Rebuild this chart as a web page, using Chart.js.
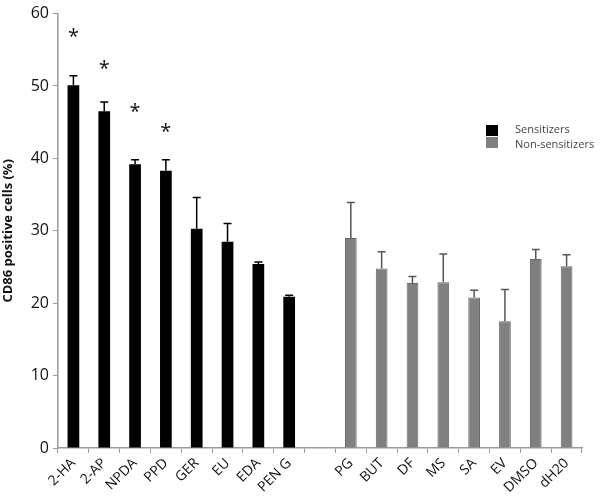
<!DOCTYPE html>
<html>
<head>
<meta charset="utf-8">
<script src="https://cdn.jsdelivr.net/npm/chart.js@4"></script>
<style>
  html, body { margin: 0; padding: 0; background: #fff; }
  #wrap { width: 600px; height: 504px; position: relative; }
</style>
</head>
<body>
<div id="wrap"><canvas id="cd86Chart"></canvas></div>
<script>
// categories (empty string = gap between groups)
var categories = ['2-HA', '2-AP', 'NPDA', 'PPD', 'GER', 'EU', 'EDA', 'PEN G', '',
                  'PG', 'BUT', 'DF', 'MS', 'SA', 'EV', 'DMSO', 'dH20'];
// mean values
var sensitizers    = [50.1, 46.5, 39.2, 38.3, 30.3, 28.5, 25.4, 20.9, null,
                      null, null, null, null, null, null, null, null];
var nonSensitizers = [null, null, null, null, null, null, null, null, null,
                      29.0, 24.8, 22.8, 22.9, 20.8, 17.5, 26.1, 25.1];
// upper error (SD)
var errors = [1.3, 1.3, 0.6, 1.5, 4.3, 2.5, 0.3, 0.2, null,
              4.9, 2.3, 0.9, 3.9, 1.0, 4.4, 1.3, 1.6];
// asterisk heights (significance marks)
var sigMarks = [56.5, 52.1, 46.1, 43.4, null, null, null, null, null,
                null, null, null, null, null, null, null, null];
var yTicks = [0, 10, 20, 30, 40, 50, 60];

var font = "'Open Sans', 'DejaVu Sans', sans-serif";

// error bars + asterisks + legend
var extrasPlugin = {
    id: 'extras',
    afterDatasetsDraw: function(chart) {
        var ctx = chart.ctx;
        var x = chart.scales.x, y = chart.scales.y;
        ctx.save();
        for (var i = 0; i < categories.length; i++) {
            var v = sensitizers[i] != null ? sensitizers[i] : nonSensitizers[i];
            if (v == null || errors[i] == null) continue;
            var cx = x.getPixelForValue(i);
            var y0 = y.getPixelForValue(v);
            var y1 = y.getPixelForValue(v + errors[i]);
            ctx.strokeStyle = sensitizers[i] != null ? '#000' : '#555';
            ctx.lineWidth = 1.5;
            ctx.beginPath();
            ctx.moveTo(cx, y0);
            ctx.lineTo(cx, y1);
            ctx.moveTo(cx - 4, y1);
            ctx.lineTo(cx + 4, y1);
            ctx.stroke();
        }
        ctx.fillStyle = '#111';
        ctx.font = '20px ' + font;
        ctx.textAlign = 'center';
        ctx.textBaseline = 'alphabetic';
        for (var j = 0; j < sigMarks.length; j++) {
            if (sigMarks[j] == null) continue;
            ctx.fillText('*', x.getPixelForValue(j), y.getPixelForValue(sigMarks[j]) + 4);
        }
        // legend
        ctx.fillStyle = '#000';
        ctx.fillRect(486, 125, 12, 11);
        ctx.fillStyle = '#808080';
        ctx.fillRect(486, 137, 12, 11);
        ctx.fillStyle = '#444';
        ctx.font = '11px ' + font;
        ctx.textAlign = 'left';
        ctx.textBaseline = 'middle';
        ctx.fillText('Sensitizers', 515, 130);
        ctx.fillText('Non-sensitizers', 515, 145);
        ctx.restore();
    }
};

var ctx = document.getElementById('cd86Chart').getContext('2d');
new Chart(ctx, {
    type: 'bar',
    data: {
        labels: categories,
        datasets: [{
            label: 'Sensitizers',
            data: sensitizers,
            backgroundColor: '#000',
            borderColor: '#000',
            borderWidth: 0,
            grouped: false,
            barPercentage: 0.38,
            categoryPercentage: 1
        }, {
            label: 'Non-sensitizers',
            data: nonSensitizers,
            backgroundColor: '#808080',
            borderColor: '#666',
            borderWidth: 1,
            grouped: false,
            barPercentage: 0.38,
            categoryPercentage: 1
        }]
    },
    options: {
        responsive: true,
        maintainAspectRatio: false,
        animation: false,
        layout: { padding: { top: 7, right: 18, left: 0, bottom: 0 } },
        plugins: {
            legend: { display: false },
            tooltip: { enabled: false }
        },
        scales: {
            x: {
                offset: true,
                grid: { offset: true, drawOnChartArea: false, drawTicks: true, tickLength: 5, color: '#999' },
                border: { color: '#999', width: 1.5 },
                ticks: {
                    autoSkip: false,
                    maxRotation: 45,
                    minRotation: 45,
                    color: '#111',
                    font: { family: font, size: 14 },
                    padding: 2
                },
                afterFit: function(scale) { scale.height = 56; }
            },
            y: {
                min: 0,
                max: 60,
                afterBuildTicks: function(scale) {
                    scale.ticks = yTicks.map(function(v) { return { value: v }; });
                },
                grid: { drawOnChartArea: false, drawTicks: true, tickLength: 5, color: '#999' },
                border: { color: '#999', width: 1.5 },
                ticks: {
                    color: '#111',
                    font: { family: font, size: 16 },
                    padding: 4
                },
                title: {
                    display: true,
                    text: 'CD86 positive cells (%)',
                    color: '#111',
                    font: { family: font, size: 13, weight: 'bold' },
                    padding: 0
                },
                afterFit: function(scale) { scale.width = 58; }
            }
        }
    },
    plugins: [extrasPlugin]
});
</script>
</body>
</html>
